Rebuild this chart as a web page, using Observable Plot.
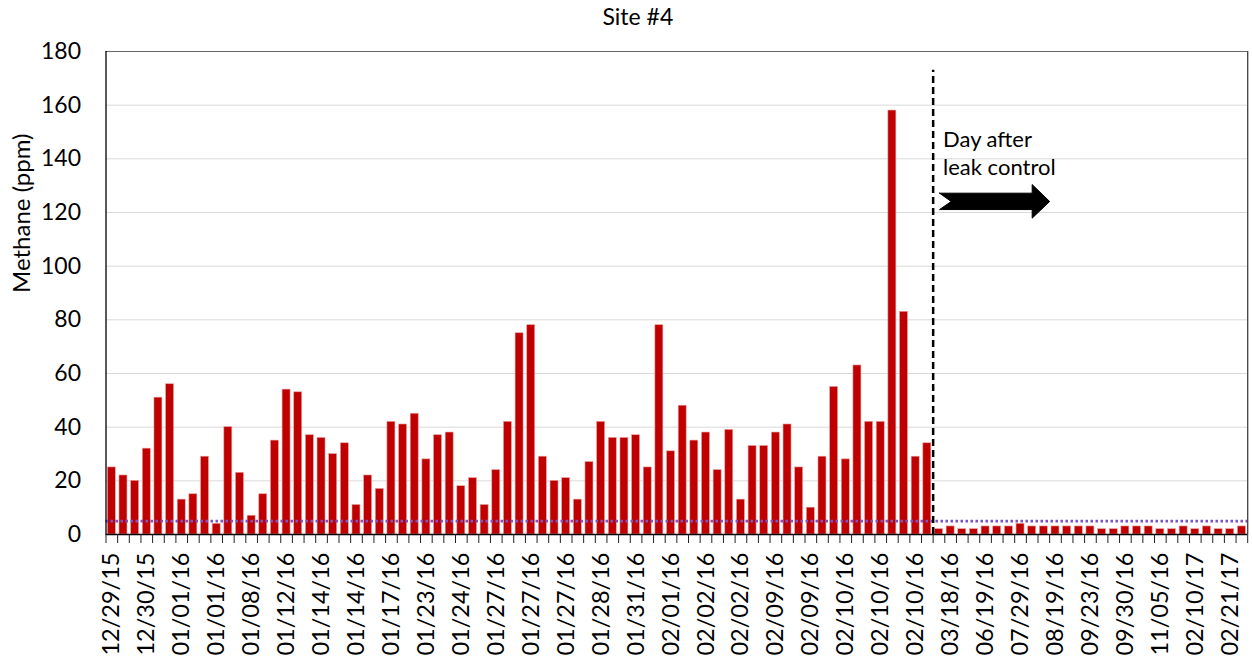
<!DOCTYPE html>
<html>
<head>
<meta charset="utf-8">
<script src="https://cdn.jsdelivr.net/npm/d3@7"></script>
<script src="https://cdn.jsdelivr.net/npm/@observablehq/plot@0.6"></script>
<style>
  body { margin: 0; background: #fff; }
  #chart svg { display: block; }
</style>
</head>
<body>
<div id="chart"></div>
<script>
// ---- Data ----
const chartTitle = "Site #4";
const yLabel = "Methane (ppm)";
// every third category label (categories 0, 3, 6, ...)
const tickLabels = ["12/29/15","12/30/15","01/01/16","01/01/16","01/08/16","01/12/16","01/14/16","01/14/16",
  "01/17/16","01/23/16","01/24/16","01/27/16","01/27/16","01/27/16","01/28/16","01/31/16","02/01/16",
  "02/02/16","02/02/16","02/09/16","02/09/16","02/10/16","02/10/16","02/10/16","03/18/16","06/19/16",
  "07/29/16","08/19/16","09/23/16","09/30/16","11/05/16","02/10/17","02/21/17"];
const labelStep = 3;
// methane readings before leak control
const methaneBefore = [25,22,20,32,51,56,13,15,29,4,40,23,7,15,35,54,53,37,36,30,34,11,22,17,
  42,41,45,28,37,38,18,21,11,24,42,75,78,29,20,21,13,27,42,36,36,37,25,78,31,48,35,38,24,39,
  13,33,33,38,41,25,10,29,55,28,63,42,42,158,83,29,34];
// methane readings after leak control
const methaneAfter = [2,3,2,2,3,3,3,4,3,3,3,3,3,3,2,2,3,3,3,2,2,3,2,3,2,2,3];
const thresholdPpm = 5;
const dashedLineTop = 173;
const yTicks = [0,20,40,60,80,100,120,140,160,180];
const annotationText = "Day after\nleak control";
// block arrow outline (category units, ppm)
const arrowX = [71.05, 79.0, 79.0, 80.5, 79.0, 79.0, 71.05, 72.05, 71.05];
const arrowY = [127.2, 127.2, 130.4, 124.1, 117.9, 121.1, 121.1, 124.1, 127.2];

// ---- Build tables ----
const values = methaneBefore.concat(methaneAfter);
const n = values.length;
const bars = values.map((v, i) => ({i, v}));
const boundary = methaneBefore.length - 0.5;
const labelIdx = tickLabels.map((_, k) => k * labelStep);
const boundaries = d3.range(-0.5, n, 1);
const arrow = arrowX.map((x, k) => ({x, y: arrowY[k]}));
const halfBar = 0.343;

const chart = Plot.plot({
  width: 1252,
  height: 656,
  marginLeft: 105.5,
  marginRight: 4.8,
  marginTop: 51,
  marginBottom: 122,
  style: {fontFamily: "Lato, 'Open Sans', sans-serif", fontSize: "22px", color: "#000", background: "#fff"},
  x: {type: "linear", domain: [-0.5, n - 0.5], axis: null, label: null},
  y: {domain: [0, 180], axis: null, label: null},
  marks: [
    Plot.gridY(yTicks.slice(1, -1), {stroke: "#d9d9d9", strokeOpacity: 1, strokeWidth: 1}),
    Plot.rectY(bars, {x1: d => d.i - halfBar, x2: d => d.i + halfBar, y: "v", fill: "#c00000", stroke: "#e9a3a3", strokeWidth: 0.6}),
    Plot.ruleY([thresholdPpm], {x1: -0.5, x2: n - 0.5, stroke: "#7a55c8", strokeWidth: 2.6, strokeDasharray: "2.5,2.5"}),
    Plot.ruleX([boundary], {y1: 0, y2: dashedLineTop, stroke: "#000", strokeWidth: 2.5, strokeDasharray: "7,4"}),
    Plot.ruleY([180], {stroke: "#666", strokeWidth: 1.2}),
    Plot.ruleX([n - 0.5], {stroke: "#404040", strokeWidth: 1.3}),
    Plot.ruleX([-0.5], {stroke: "#000", strokeWidth: 1.3}),
    Plot.ruleY([0], {stroke: "#000", strokeWidth: 1.3}),
    Plot.axisX({ticks: boundaries, tickFormat: () => "", tickSize: 9, stroke: "#222", label: null}),
    Plot.axisX({ticks: labelIdx, tickFormat: i => tickLabels[i / labelStep], tickSize: 0, tickPadding: 18, tickRotate: -90, fontSize: 23.5, label: null}),
    Plot.axisY({ticks: yTicks, tickSize: 0, tickPadding: 25, fontSize: 23, label: null}),
    Plot.line(arrow, {x: "x", y: "y", fill: "#000", stroke: "#000", strokeWidth: 1}),
    Plot.text([annotationText], {x: boundary + 0.85, y: 142.6, text: d => d, textAnchor: "start", lineAnchor: "middle", lineHeight: 1.27, fontSize: 22}),
    Plot.text([chartTitle], {frameAnchor: "top", dx: -39, dy: -34, text: d => d, fontSize: 23, lineAnchor: "middle"}),
    Plot.text([yLabel], {frameAnchor: "left", dx: -84, rotate: -90, text: d => d, fontSize: 24, lineAnchor: "middle"})
  ]
});
document.getElementById("chart").appendChild(chart);
</script>
</body>
</html>
